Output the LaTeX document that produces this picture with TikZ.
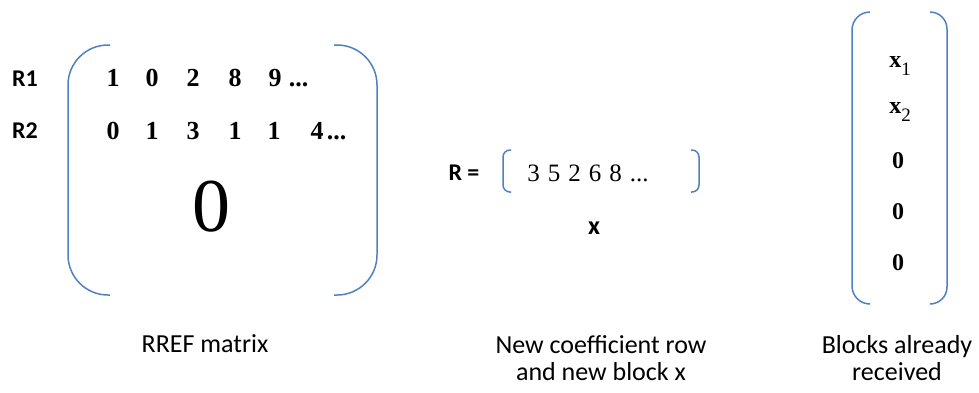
\documentclass[tikz,border=0pt]{standalone}
\usepackage{fontspec}
\setmainfont{Liberation Serif}
\newfontfamily\labelfont{Carlito}
\usetikzlibrary{positioning}
\definecolor{bracketblue}{HTML}{4F81BD}
\newcommand{\vsub}[1]{\raisebox{-8pt}{\fontsize{19}{19}\selectfont\mdseries #1}}

\begin{document}
\begin{tikzpicture}[x=1pt, y=-1pt,
	bracket/.style={draw=bracketblue, line width=1.5pt},
	entry/.style={inner sep=1pt, font=\bfseries\fontsize{26}{30}\selectfont},
	vecentry/.style={inner sep=0pt, anchor=base, font=\bfseries\fontsize{24}{28}\selectfont},
	rowlabel/.style={inner sep=0pt, font=\labelfont\bfseries\fontsize{24}{28}\selectfont},
	caption/.style={align=center, inner sep=0pt, font=\labelfont\fontsize{26}{27}\selectfont}]
	
	\useasboundingbox (0,0) rectangle (979,392);
	
	% RREF MATRIX
	
	\draw [bracket, rounded corners=40pt] (110,45) -- (68,45) -- (68,295) -- (110,295);
	\draw [bracket, rounded corners=40pt] (334,45) -- (377,45) -- (377,295) -- (334,295);
	
	\node [rowlabel] (r1) at (25,79) {R1};
	\node [rowlabel] (r2) at (25,131) {R2};
	
	% First row
	\node [entry] (a11) at (113,78) {1};
	\node [entry] (a12) at (152,78) {0};
	\node [entry] (a13) at (193,78) {2};
	\node [entry] (a14) at (235,78) {8};
	\node [entry] (a15) at (275,78) {9};
	\node [entry, anchor=base west, xshift=5pt] (adots1) at (a15.base east) {...};
	
	% Second row
	\node [entry] (a21) at (113,131) {0};
	\node [entry] (a22) at (152,131) {1};
	\node [entry] (a23) at (193,131) {3};
	\node [entry] (a24) at (235,131) {1};
	\node [entry] (a25) at (274,131) {1};
	\node [entry] (a26) at (317,131) {4};
	\node [entry, anchor=base west, xshift=1pt] (adots2) at (a26.base east) {...};
	
	% Zero block
	\node [inner sep=0pt, font=\fontsize{76}{80}\selectfont] (zero) at (211,207) {0};
	
	\node [caption, anchor=base] (rref) at (205,352) {RREF matrix};
	
	% NEW ROW
	
	\node [rowlabel] (req) at (464,173) {R =};
	\draw [bracket, rounded corners=7pt] (511,150) -- (503,150) -- (503,192) -- (511,192);
	\draw [bracket, rounded corners=7pt] (691,150) -- (699,150) -- (699,192) -- (691,192);
	\node [inner sep=0pt, font=\fontsize{25}{28}\selectfont] (newrow) at (588,173) {\spaceskip=8pt 3 5 2 6 8 ...};
	\node [rowlabel, font=\labelfont\bfseries\fontsize{26}{28}\selectfont] (newx) at (594,228) {x};
	
	\node [caption] (newcap) at (601,358) {New coefficient row\\and new block x};
	
	% RECEIVED BLOCKS
	
	\draw [bracket, rounded corners=18pt] (870,12) -- (852,12) -- (852,304) -- (870,304);
	\draw [bracket, rounded corners=17pt] (930,12) -- (947,12) -- (947,304) -- (930,304);
	
	\node [vecentry] (b1) at (900,67) {x\vsub{1}};
	\node [vecentry] (b2) at (900,113) {x\vsub{2}};
	\node [vecentry] (b3) at (898,168) {0};
	\node [vecentry] (b4) at (898,219) {0};
	\node [vecentry] (b5) at (898,270) {0};
	
	\node [caption] (blockcap) at (897,358) {Blocks already\\received};
	
\end{tikzpicture}
\end{document}
